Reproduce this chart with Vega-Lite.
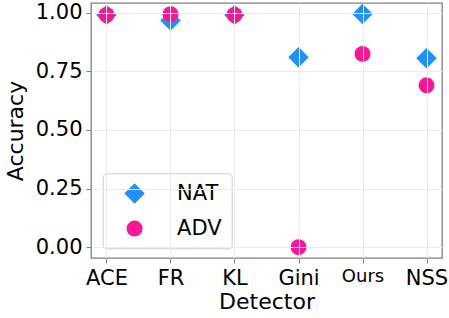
{
  "$schema": "https://vega.github.io/schema/vega-lite/v6.json",
  "width": 351,
  "height": 255,
  "autosize": {"type": "none"},
  "padding": {"left": 91, "top": 3, "right": 7, "bottom": 60},
  "config": {
    "font": "DejaVu Sans",
    "view": {"stroke": "#808080", "strokeWidth": 1.3},
    "legend": {
      "orient": "none",
      "legendX": 11.7,
      "legendY": 170.3,
      "padding": 9.75,
      "fillColor": "white",
      "strokeColor": "#cccccc",
      "cornerRadius": 4,
      "labelFontSize": 21,
      "labelFont": "DejaVu Sans",
      "labelColor": "black",
      "labelOffset": 32,
      "symbolOffset": 11.6,
      "rowPadding": 13,
      "symbolStrokeWidth": 0,
      "symbolOpacity": 1
    }
  },
  "data": {
    "values": [
      {"detector": "ACE", "series": "NAT", "accuracy": 0.99},
      {"detector": "FR", "series": "NAT", "accuracy": 0.966},
      {"detector": "KL", "series": "NAT", "accuracy": 0.99},
      {"detector": "Gini", "series": "NAT", "accuracy": 0.81},
      {"detector": "Ours", "series": "NAT", "accuracy": 0.994},
      {"detector": "NSS", "series": "NAT", "accuracy": 0.806},
      {"detector": "ACE", "series": "ADV", "accuracy": 0.99},
      {"detector": "FR", "series": "ADV", "accuracy": 0.993},
      {"detector": "KL", "series": "ADV", "accuracy": 0.99},
      {"detector": "Gini", "series": "ADV", "accuracy": 0.0},
      {"detector": "Ours", "series": "ADV", "accuracy": 0.824},
      {"detector": "NSS", "series": "ADV", "accuracy": 0.69}
    ]
  },
  "mark": {"type": "point", "filled": true, "opacity": 1, "strokeWidth": 0},
  "encoding": {
    "x": {
      "field": "detector",
      "type": "nominal",
      "sort": null,
      "scale": {"type": "point", "padding": 0.242},
      "axis": {
        "title": "Detector",
        "titleFontSize": 22,
        "titleFontWeight": "normal",
        "titleColor": "black",
        "titlePadding": 3,
        "labelAngle": 0,
        "labelFontSize": {"expr": "datum.value == 'Ours' ? 18 : 21"},
        "labelColor": "black",
        "labelPadding": 4,
        "tickSize": 5,
        "tickColor": "#808080",
        "domain": false,
        "grid": true,
        "gridColor": "#ececec",
        "zindex": 1
      }
    },
    "y": {
      "field": "accuracy",
      "type": "quantitative",
      "scale": {"domain": [-0.046, 1.041], "nice": false, "zero": false},
      "axis": {
        "title": "Accuracy",
        "titleFontSize": 22,
        "titleFontWeight": "normal",
        "titleColor": "black",
        "titlePadding": 8,
        "values": [0, 0.25, 0.5, 0.75, 1],
        "format": ".2f",
        "labelFontSize": 21,
        "labelColor": "black",
        "labelPadding": 4,
        "tickSize": 5,
        "tickColor": "#808080",
        "domain": false,
        "grid": true,
        "gridColor": "#ececec",
        "zindex": 1
      }
    },
    "color": {
      "field": "series",
      "type": "nominal",
      "title": null,
      "scale": {"domain": ["NAT", "ADV"], "range": ["#1E90FF", "#FF1493"]}
    },
    "shape": {
      "field": "series",
      "type": "nominal",
      "title": null,
      "scale": {"domain": ["NAT", "ADV"], "range": ["diamond", "circle"]}
    },
    "size": {
      "field": "series",
      "type": "nominal",
      "title": null,
      "scale": {"domain": ["NAT", "ADV"], "range": [420, 256]}
    }
  }
}
